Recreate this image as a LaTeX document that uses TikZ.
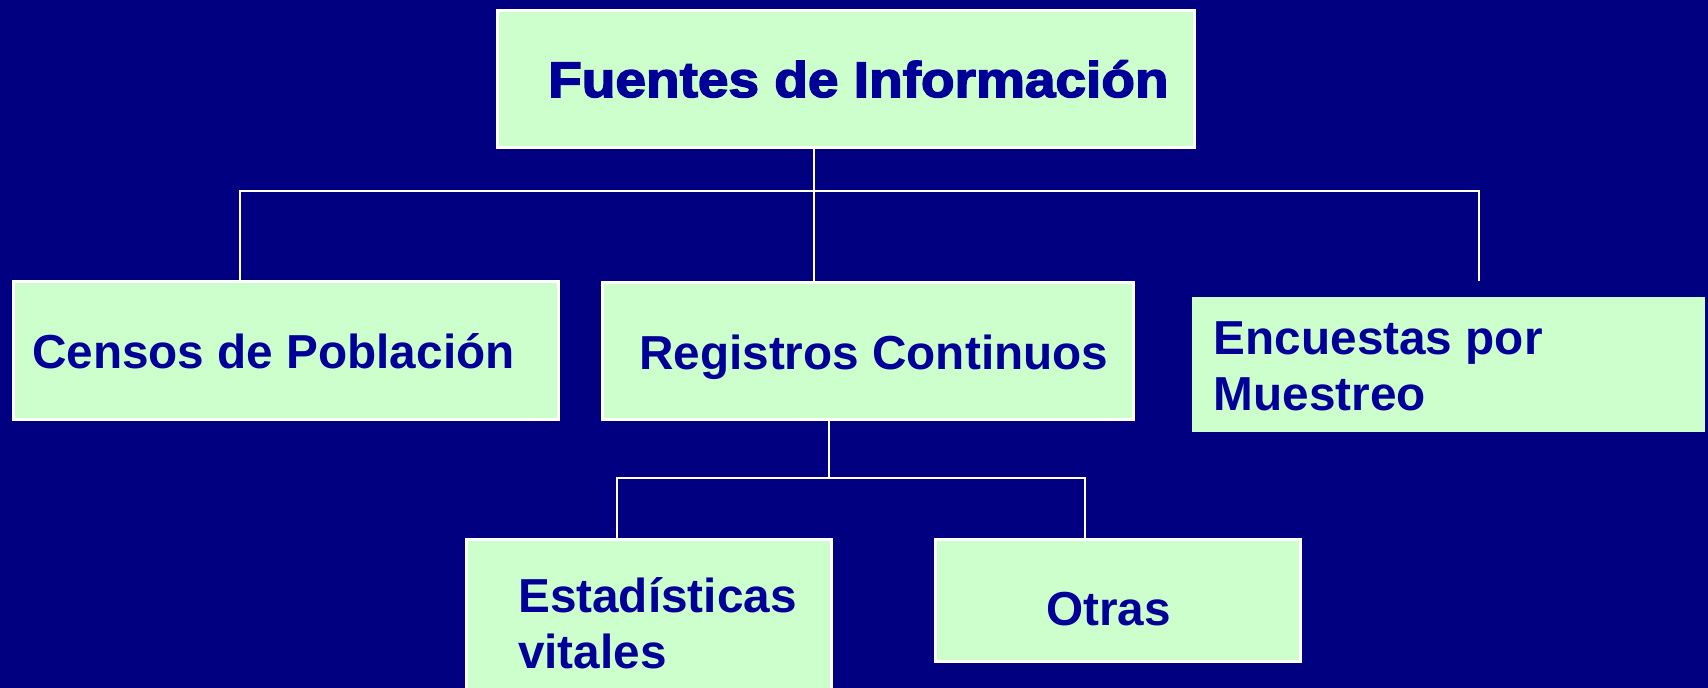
\documentclass[tikz,border=0pt]{standalone}
\usepackage{fontspec}
\setmainfont{Liberation Sans}
\newfontfamily\heavy[FakeBold=3,FakeStretch=1.1]{Liberation Sans Bold}
\definecolor{bgnavy}{HTML}{000080}
\definecolor{boxgreen}{HTML}{CCFFCC}
\definecolor{txtblue}{HTML}{000099}
\begin{document}
\begin{tikzpicture}[x=1pt,y=-1pt,
  box/.style={draw=white,line width=2.5pt,fill=boxgreen,rectangle,inner sep=0pt,anchor=north west},
  plainbox/.style={fill=boxgreen,rectangle,inner sep=0pt,anchor=north west},
  lbl/.style={text=txtblue,inner sep=0pt,anchor=base west,font=\fontsize{47.7}{56.2}\selectfont\bfseries},
  conn/.style={draw=white,line width=2pt}]
\fill[bgnavy] (0,0) rectangle (1708,688);
\useasboundingbox (0,0) rectangle (1708,688);
% boxes
\node[box,minimum width=697pt,minimum height=137pt] (top) at (496,9) {};
\node[box,minimum width=545pt,minimum height=138pt] (censos) at (12,280) {};
\node[box,minimum width=531pt,minimum height=137pt] (reg) at (601,281) {};
\node[plainbox,minimum width=513pt,minimum height=135pt] (enc) at (1192,297) {};
\node[box,minimum width=365pt,minimum height=170pt] (est) at (465,538) {};
\node[box,minimum width=365pt,minimum height=122pt] (otras) at (934,538) {};
% texts
\node[text=txtblue,inner sep=0pt,anchor=base west,font=\heavy\fontsize{50}{56}\selectfont] (ttop) at (548,97) {Fuentes de Información};
\node[lbl] (tcensos) at (32,368) {Censos de Población};
\node[lbl] (treg) at (639,369) {Registros Continuos};
\node[lbl,align=left] (tenc) at (1213.7,410.7) {Encuestas por\\Muestreo};
\node[lbl,align=left] (test) at (518,668.3) {Estadísticas\\vitales};
\node[lbl] (totras) at (1046,625) {Otras};
% connectors
\coordinate (j1) at (813.7,191);
\coordinate (hl) at (239.6,191);
\coordinate (hr) at (1478.5,191);
\coordinate (rend) at (1478.5,281);
\draw[conn] (j1 |- top.south) -- (j1 |- reg.north);
\draw[conn] (hl |- censos.north) -- (hl) -- (hr) -- (rend);
\coordinate (j2) at (829,478);
\coordinate (ll) at (617,478);
\coordinate (lr) at (1085,478);
\draw[conn] (j2 |- reg.south) -- (j2);
\draw[conn] (ll |- est.north) -- (ll) -- (lr) -- (lr |- otras.north);
\end{tikzpicture}
\end{document}
